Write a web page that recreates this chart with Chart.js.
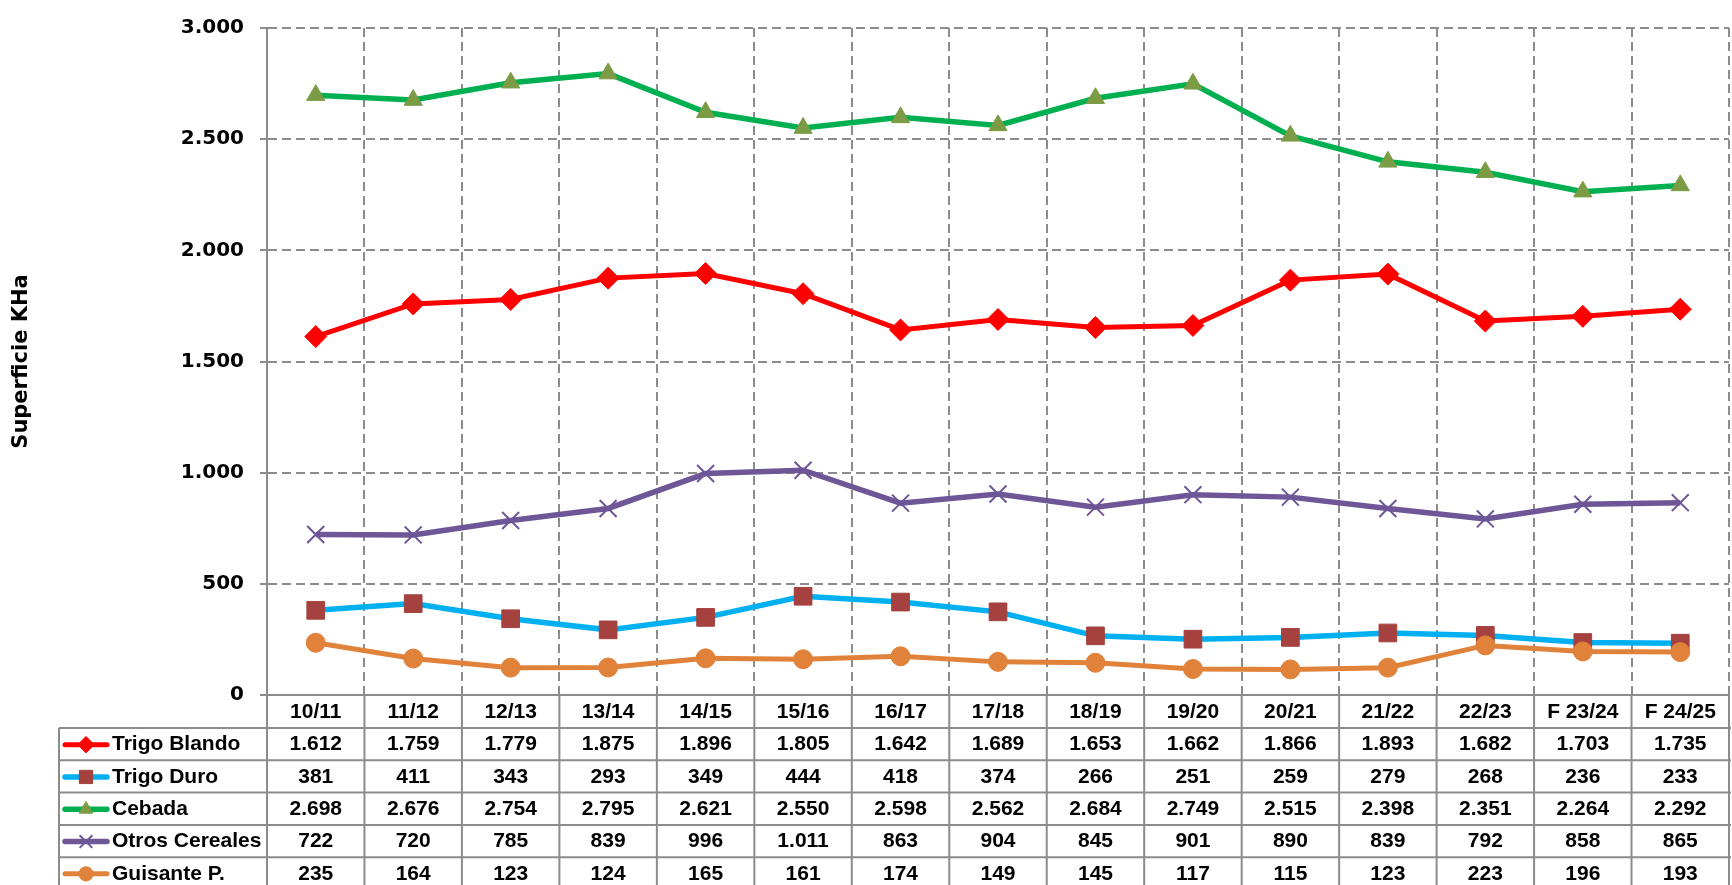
<!DOCTYPE html>
<html><head><meta charset="utf-8">
<script src="https://cdn.jsdelivr.net/npm/chart.js@4"></script>
<style>
html,body{margin:0;padding:0;background:#fff;overflow:hidden;width:1732px;height:885px}
#wrap{position:absolute;left:0;top:0;width:1743px;height:885px}
</style></head><body>
<div id="wrap"><canvas id="c"></canvas></div>
<script>
const categories = ['10/11','11/12','12/13','13/14','14/15','15/16','16/17','17/18','18/19','19/20','20/21','21/22','22/23','F 23/24','F 24/25'];
const trigoBlando = [1612,1759,1779,1875,1896,1805,1642,1689,1653,1662,1866,1893,1682,1703,1735];
const trigoDuro = [381,411,343,293,349,444,418,374,266,251,259,279,268,236,233];
const cebada = [2698,2676,2754,2795,2621,2550,2598,2562,2684,2749,2515,2398,2351,2264,2292];
const otrosCereales = [722,720,785,839,996,1011,863,904,845,901,890,839,792,858,865];
const guisante = [235,164,123,124,165,161,174,149,145,117,115,123,223,196,193];
const seriesNames = ['Trigo Blando','Trigo Duro','Cebada','Otros Cereales','Guisante P.'];
const yTicks = [0,500,1000,1500,2000,2500,3000];
const yTitle = 'Superficie KHa';

const seriesValues = [trigoBlando, trigoDuro, cebada, otrosCereales, guisante];
const lineColors = ['#FF0000','#00B0F0','#00B050','#6E5697','#E0823A'];
const markerColors = ['#FF0000','#A5413E','#7B9B45','#6E5697','#E0823A'];
const pointStyles = ['rectRot','rect','triangle','crossRot','circle'];
const pointRadii = [11,12.5,10.5,12,9.5];
const pointBorders = [1,1,1,2,1];
const lineWidths = [5,5.5,5.5,5.5,5];
const drawOrder = [5,4,3,2,1];
const GRID = '#8C8C8C';

function fmt(v){ return String(v).replace(/\B(?=(\d{3})+(?!\d))/g,'.'); }

Chart.defaults.font.family = "'Liberation Sans', Arial, sans-serif";
Chart.defaults.color = '#000';

function drawMarker(ctx, style, r, x, y, fill, stroke, bw){
  ctx.fillStyle = fill; ctx.strokeStyle = stroke; ctx.lineWidth = bw;
  Chart.helpers.drawPoint(ctx, {pointStyle: style, radius: r, borderWidth: bw, rotation: 0}, x, y);
}

const tablePlugin = {
  id: 'dataTable',
  afterDraw(chart){
    const ctx = chart.ctx, xs = chart.scales.x, ca = chart.chartArea;
    const n = categories.length;
    const step = xs.getPixelForValue(1) - xs.getPixelForValue(0);
    const top = ca.bottom, headH = 33, rowH = 32.3;
    const legendLeft = 59;
    const bottom = top + headH + seriesNames.length * rowH;
    ctx.save();
    ctx.strokeStyle = GRID; ctx.lineWidth = 2; ctx.setLineDash([]);
    ctx.beginPath();
    for (let k = 0; k <= seriesNames.length; k++){
      const y = top + headH + k*rowH;
      ctx.moveTo(legendLeft, y); ctx.lineTo(ca.right + 2, y);
    }
    ctx.moveTo(legendLeft, top + headH); ctx.lineTo(legendLeft, bottom);
    for (let i = 0; i <= n; i++){
      const x = (i < n ? xs.getPixelForValue(i) - step/2 : xs.getPixelForValue(n-1) + step/2);
      ctx.moveTo(x, top); ctx.lineTo(x, bottom);
    }
    ctx.stroke();
    ctx.font = "bold 21px 'Liberation Sans', Arial, sans-serif";
    ctx.textBaseline = 'middle';
    seriesNames.forEach((name, s) => {
      const cy = top + headH + s*rowH + rowH/2 + 0.5;
      ctx.strokeStyle = lineColors[s]; ctx.lineWidth = lineWidths[s]; ctx.lineCap = 'round';
      ctx.beginPath(); ctx.moveTo(65, cy); ctx.lineTo(107, cy); ctx.stroke();
      ctx.lineCap = 'butt';
      drawMarker(ctx, pointStyles[s], pointRadii[s]*0.75, 86, cy, markerColors[s], markerColors[s], pointBorders[s]);
      ctx.fillStyle = '#000'; ctx.textAlign = 'left';
      ctx.fillText(name, 112, cy);
      ctx.textAlign = 'center';
      seriesValues[s].forEach((v, i) => {
        ctx.fillText(fmt(v), xs.getPixelForValue(i), cy);
      });
    });
    ctx.restore();
  }
};

const datasets = seriesNames.map((name, s) => ({
  label: name,
  data: seriesValues[s],
  borderColor: lineColors[s],
  backgroundColor: markerColors[s],
  borderWidth: lineWidths[s],
  pointStyle: pointStyles[s],
  pointRadius: pointRadii[s],
  pointHoverRadius: pointRadii[s],
  pointBackgroundColor: markerColors[s],
  pointBorderColor: markerColors[s],
  pointBorderWidth: pointBorders[s],
  tension: 0,
  fill: false,
  order: drawOrder[s]
}));

new Chart(document.getElementById('c'), {
  type: 'line',
  data: { labels: categories, datasets },
  options: {
    responsive: true,
    maintainAspectRatio: false,
    animation: false,
    devicePixelRatio: 1,
    layout: { padding: { top: 22, left: 0, right: 0, bottom: 0 } },
    plugins: { legend: { display: false }, tooltip: { enabled: false } },
    scales: {
      x: {
        offset: true,
        grid: { offset: true, color: GRID, lineWidth: 2, drawTicks: false },
        border: { display: true, color: GRID, width: 2, dash: [9,5] },
        ticks: { font: { size: 21, weight: 'bold' }, color: '#000', padding: 5, maxRotation: 0, autoSkip: false },
        afterFit: s => { s.height = 190; }
      },
      y: {
        min: 0, max: 3000,
        afterBuildTicks: s => { s.ticks = yTicks.map(v => ({ value: v })); },
        grid: { color: GRID, lineWidth: 2, drawTicks: true, tickLength: 7, tickColor: GRID, tickWidth: 2, tickBorderDash: [] },
        border: { display: true, color: GRID, width: 2, dash: [9,5] },
        ticks: { font: { family: "'DejaVu Sans'", size: 20, weight: 'bold' }, color: '#000', padding: 16, callback: v => fmt(v) },
        title: { display: true, text: yTitle, font: { family: "'DejaVu Sans'", size: 21, weight: 'bold' }, color: '#000', padding: { top: 9, bottom: 0 } },
        afterFit: s => { s.width = 267; }
      }
    }
  },
  plugins: [tablePlugin]
});
</script>
</body></html>
